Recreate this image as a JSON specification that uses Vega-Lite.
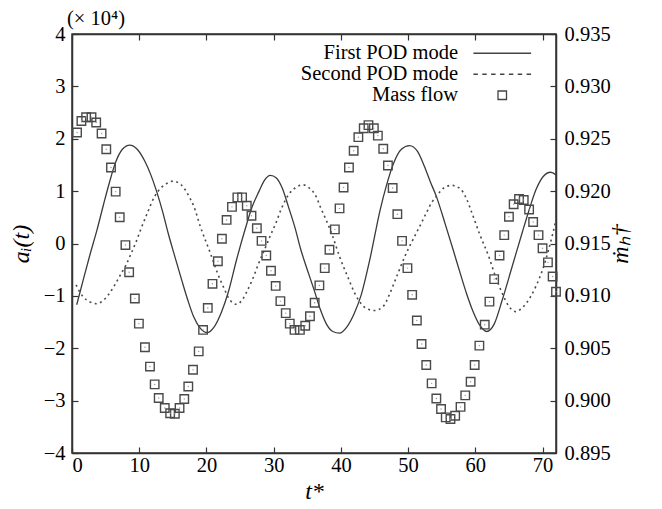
{
  "$schema": "https://vega.github.io/schema/vega-lite/v6.json",
  "width": 484,
  "height": 419,
  "autosize": {"type": "none"},
  "padding": {"left": 72, "top": 34, "right": 106, "bottom": 56},
  "background": "white",
  "title": {"text": "(× 10⁴)", "anchor": "start", "frame": "group", "font": "Liberation Serif", "fontSize": 20.5, "fontWeight": "normal", "color": "#000", "offset": -5, "dx": -5},
  "config": {
    "view": {"stroke": "#333", "strokeWidth": 1.5},
    "axis": {"labelFont": "Liberation Serif", "labelFontSize": 20.5, "labelColor": "#000", "tickColor": "#333", "domainColor": "#333", "domainWidth": 1.5, "tickWidth": 1.2, "tickSize": -6, "grid": false, "titleFont": "Liberation Serif", "titleFontStyle": "italic", "titleFontWeight": "normal", "titleFontSize": 24, "titleColor": "#000"},
    "legend": {"orient": "none", "legendX": 420, "legendY": 9, "labelFont": "Liberation Serif", "labelFontSize": 20.5, "labelColor": "#000", "labelAlign": "right", "labelOffset": -54.5, "labelLimit": 400, "symbolSize": 72, "symbolStrokeWidth": 1.3, "symbolStrokeColor": "#444", "rowPadding": 0, "padding": 0}
  },
  "datasets": {
    "pod1": [
      {"t": 0.7, "a": -1.17}, {"t": 1.7, "a": -0.68}, {"t": 2.7, "a": -0.2}, {"t": 3.7, "a": 0.25}, {"t": 4.7, "a": 0.75}, {"t": 5.6, "a": 1.18}, {"t": 6.4, "a": 1.52}, {"t": 7.5, "a": 1.8}, {"t": 8.6, "a": 1.88}, {"t": 9.7, "a": 1.8}, {"t": 10.8, "a": 1.58}, {"t": 11.7, "a": 1.32}, {"t": 12.6, "a": 0.99}, {"t": 13.5, "a": 0.6}, {"t": 14.3, "a": 0.2}, {"t": 15.3, "a": -0.25}, {"t": 16.3, "a": -0.69}, {"t": 17.2, "a": -1.07}, {"t": 18.1, "a": -1.4}, {"t": 19.1, "a": -1.62}, {"t": 20.1, "a": -1.7}, {"t": 21.1, "a": -1.6}, {"t": 22.2, "a": -1.32}, {"t": 23.2, "a": -0.95}, {"t": 24.5, "a": -0.3}, {"t": 25.8, "a": 0.29}, {"t": 26.8, "a": 0.7}, {"t": 27.8, "a": 0.99}, {"t": 28.6, "a": 1.2}, {"t": 29.5, "a": 1.3}, {"t": 30.4, "a": 1.25}, {"t": 31.3, "a": 1.05}, {"t": 32.2, "a": 0.7}, {"t": 33.2, "a": 0.29}, {"t": 34.0, "a": -0.1}, {"t": 35.0, "a": -0.5}, {"t": 36.0, "a": -0.88}, {"t": 37.0, "a": -1.28}, {"t": 37.9, "a": -1.55}, {"t": 38.8, "a": -1.68}, {"t": 39.8, "a": -1.71}, {"t": 40.9, "a": -1.59}, {"t": 42.0, "a": -1.33}, {"t": 43.0, "a": -0.99}, {"t": 44.4, "a": -0.25}, {"t": 45.8, "a": 0.62}, {"t": 46.8, "a": 1.12}, {"t": 47.8, "a": 1.52}, {"t": 49.0, "a": 1.8}, {"t": 50.2, "a": 1.87}, {"t": 51.4, "a": 1.76}, {"t": 52.4, "a": 1.48}, {"t": 53.3, "a": 1.18}, {"t": 54.2, "a": 0.9}, {"t": 55.5, "a": 0.38}, {"t": 56.7, "a": -0.12}, {"t": 57.8, "a": -0.59}, {"t": 58.7, "a": -0.96}, {"t": 59.6, "a": -1.28}, {"t": 60.6, "a": -1.55}, {"t": 61.7, "a": -1.68}, {"t": 62.8, "a": -1.54}, {"t": 64.0, "a": -1.08}, {"t": 65.5, "a": -0.43}, {"t": 67.0, "a": 0.22}, {"t": 68.0, "a": 0.64}, {"t": 69.0, "a": 1.02}, {"t": 70.1, "a": 1.28}, {"t": 71.2, "a": 1.36}, {"t": 72.0, "a": 1.31}
    ],
    "pod2": [
      {"t": 0.6, "a": -0.79}, {"t": 1.6, "a": -1.01}, {"t": 2.6, "a": -1.11}, {"t": 3.7, "a": -1.15}, {"t": 4.7, "a": -1.08}, {"t": 5.7, "a": -0.93}, {"t": 6.5, "a": -0.76}, {"t": 7.2, "a": -0.6}, {"t": 8.0, "a": -0.42}, {"t": 8.7, "a": -0.22}, {"t": 9.5, "a": 0.02}, {"t": 10.2, "a": 0.26}, {"t": 11.2, "a": 0.58}, {"t": 12.3, "a": 0.9}, {"t": 13.3, "a": 1.07}, {"t": 14.3, "a": 1.16}, {"t": 15.0, "a": 1.19}, {"t": 15.8, "a": 1.16}, {"t": 16.6, "a": 1.07}, {"t": 17.4, "a": 0.9}, {"t": 18.1, "a": 0.72}, {"t": 19.1, "a": 0.32}, {"t": 20.6, "a": -0.19}, {"t": 21.6, "a": -0.55}, {"t": 22.6, "a": -0.85}, {"t": 23.5, "a": -1.08}, {"t": 24.5, "a": -1.16}, {"t": 25.3, "a": -1.08}, {"t": 26.0, "a": -0.92}, {"t": 26.8, "a": -0.7}, {"t": 27.8, "a": -0.37}, {"t": 28.8, "a": -0.07}, {"t": 29.5, "a": 0.15}, {"t": 30.3, "a": 0.38}, {"t": 31.1, "a": 0.65}, {"t": 32.2, "a": 0.93}, {"t": 33.2, "a": 1.06}, {"t": 34.4, "a": 1.12}, {"t": 35.3, "a": 1.06}, {"t": 36.3, "a": 0.9}, {"t": 37.0, "a": 0.68}, {"t": 37.8, "a": 0.45}, {"t": 38.8, "a": 0.13}, {"t": 39.8, "a": -0.25}, {"t": 41.0, "a": -0.63}, {"t": 42.3, "a": -1.01}, {"t": 43.8, "a": -1.24}, {"t": 45.0, "a": -1.28}, {"t": 46.3, "a": -1.2}, {"t": 47.3, "a": -0.95}, {"t": 48.3, "a": -0.63}, {"t": 49.5, "a": -0.25}, {"t": 50.7, "a": 0.07}, {"t": 51.7, "a": 0.32}, {"t": 52.7, "a": 0.58}, {"t": 53.5, "a": 0.78}, {"t": 54.2, "a": 0.9}, {"t": 55.3, "a": 1.06}, {"t": 56.5, "a": 1.11}, {"t": 57.8, "a": 1.04}, {"t": 58.7, "a": 0.85}, {"t": 59.5, "a": 0.58}, {"t": 60.7, "a": 0.16}, {"t": 62.0, "a": -0.25}, {"t": 63.0, "a": -0.63}, {"t": 64.0, "a": -0.95}, {"t": 65.0, "a": -1.2}, {"t": 66.0, "a": -1.3}, {"t": 67.2, "a": -1.2}, {"t": 68.2, "a": -1.02}, {"t": 69.0, "a": -0.82}, {"t": 70.0, "a": -0.5}, {"t": 70.9, "a": -0.12}, {"t": 72.0, "a": 0.45}
    ],
    "mass": [
      {"t": 0.75, "m": 0.9256, "series": "Mass flow"}, {"t": 1.4, "m": 0.9267, "series": "Mass flow"}, {"t": 2.1, "m": 0.92705, "series": "Mass flow"}, {"t": 2.9, "m": 0.92705, "series": "Mass flow"}, {"t": 3.6, "m": 0.92655, "series": "Mass flow"}, {"t": 4.4, "m": 0.9255, "series": "Mass flow"}, {"t": 5.1, "m": 0.924, "series": "Mass flow"}, {"t": 5.8, "m": 0.92225, "series": "Mass flow"}, {"t": 6.5, "m": 0.91995, "series": "Mass flow"}, {"t": 7.1, "m": 0.9175, "series": "Mass flow"}, {"t": 7.95, "m": 0.91485, "series": "Mass flow"}, {"t": 8.5, "m": 0.91225, "series": "Mass flow"}, {"t": 9.35, "m": 0.90975, "series": "Mass flow"}, {"t": 9.95, "m": 0.90735, "series": "Mass flow"}, {"t": 10.85, "m": 0.9051, "series": "Mass flow"}, {"t": 11.6, "m": 0.90325, "series": "Mass flow"}, {"t": 12.3, "m": 0.90155, "series": "Mass flow"}, {"t": 12.9, "m": 0.90025, "series": "Mass flow"}, {"t": 13.8, "m": 0.8993, "series": "Mass flow"}, {"t": 14.6, "m": 0.8988, "series": "Mass flow"}, {"t": 15.3, "m": 0.89875, "series": "Mass flow"}, {"t": 16.0, "m": 0.8993, "series": "Mass flow"}, {"t": 16.7, "m": 0.90015, "series": "Mass flow"}, {"t": 17.3, "m": 0.90135, "series": "Mass flow"}, {"t": 18.0, "m": 0.90295, "series": "Mass flow"}, {"t": 18.85, "m": 0.9047, "series": "Mass flow"}, {"t": 19.5, "m": 0.90675, "series": "Mass flow"}, {"t": 20.2, "m": 0.90885, "series": "Mass flow"}, {"t": 20.9, "m": 0.91115, "series": "Mass flow"}, {"t": 21.7, "m": 0.9133, "series": "Mass flow"}, {"t": 22.3, "m": 0.91545, "series": "Mass flow"}, {"t": 23.0, "m": 0.91725, "series": "Mass flow"}, {"t": 23.8, "m": 0.9185, "series": "Mass flow"}, {"t": 24.6, "m": 0.9194, "series": "Mass flow"}, {"t": 25.3, "m": 0.9194, "series": "Mass flow"}, {"t": 26.0, "m": 0.9186, "series": "Mass flow"}, {"t": 26.7, "m": 0.91765, "series": "Mass flow"}, {"t": 27.5, "m": 0.91645, "series": "Mass flow"}, {"t": 28.2, "m": 0.91525, "series": "Mass flow"}, {"t": 28.9, "m": 0.91385, "series": "Mass flow"}, {"t": 29.6, "m": 0.9124, "series": "Mass flow"}, {"t": 30.3, "m": 0.91095, "series": "Mass flow"}, {"t": 31.0, "m": 0.9095, "series": "Mass flow"}, {"t": 31.8, "m": 0.90835, "series": "Mass flow"}, {"t": 32.4, "m": 0.90735, "series": "Mass flow"}, {"t": 33.1, "m": 0.90675, "series": "Mass flow"}, {"t": 33.9, "m": 0.90675, "series": "Mass flow"}, {"t": 34.7, "m": 0.90715, "series": "Mass flow"}, {"t": 35.4, "m": 0.90805, "series": "Mass flow"}, {"t": 36.1, "m": 0.90935, "series": "Mass flow"}, {"t": 36.8, "m": 0.911, "series": "Mass flow"}, {"t": 37.6, "m": 0.91265, "series": "Mass flow"}, {"t": 38.3, "m": 0.9144, "series": "Mass flow"}, {"t": 39.1, "m": 0.91635, "series": "Mass flow"}, {"t": 39.8, "m": 0.91835, "series": "Mass flow"}, {"t": 40.4, "m": 0.92035, "series": "Mass flow"}, {"t": 41.2, "m": 0.92225, "series": "Mass flow"}, {"t": 41.9, "m": 0.92385, "series": "Mass flow"}, {"t": 42.6, "m": 0.92515, "series": "Mass flow"}, {"t": 43.4, "m": 0.926, "series": "Mass flow"}, {"t": 44.1, "m": 0.9263, "series": "Mass flow"}, {"t": 44.9, "m": 0.926, "series": "Mass flow"}, {"t": 45.5, "m": 0.9253, "series": "Mass flow"}, {"t": 46.3, "m": 0.92405, "series": "Mass flow"}, {"t": 47.0, "m": 0.92245, "series": "Mass flow"}, {"t": 47.7, "m": 0.9203, "series": "Mass flow"}, {"t": 48.4, "m": 0.9178, "series": "Mass flow"}, {"t": 49.1, "m": 0.91525, "series": "Mass flow"}, {"t": 49.9, "m": 0.91265, "series": "Mass flow"}, {"t": 50.6, "m": 0.9101, "series": "Mass flow"}, {"t": 51.3, "m": 0.90765, "series": "Mass flow"}, {"t": 52.0, "m": 0.9054, "series": "Mass flow"}, {"t": 52.7, "m": 0.9034, "series": "Mass flow"}, {"t": 53.5, "m": 0.90165, "series": "Mass flow"}, {"t": 54.2, "m": 0.9002, "series": "Mass flow"}, {"t": 54.9, "m": 0.8992, "series": "Mass flow"}, {"t": 55.6, "m": 0.8984, "series": "Mass flow"}, {"t": 56.3, "m": 0.89825, "series": "Mass flow"}, {"t": 57.0, "m": 0.89855, "series": "Mass flow"}, {"t": 57.8, "m": 0.8994, "series": "Mass flow"}, {"t": 58.5, "m": 0.9005, "series": "Mass flow"}, {"t": 59.3, "m": 0.9018, "series": "Mass flow"}, {"t": 59.9, "m": 0.9034, "series": "Mass flow"}, {"t": 60.6, "m": 0.90525, "series": "Mass flow"}, {"t": 61.4, "m": 0.90725, "series": "Mass flow"}, {"t": 62.1, "m": 0.90945, "series": "Mass flow"}, {"t": 62.8, "m": 0.9116, "series": "Mass flow"}, {"t": 63.6, "m": 0.91385, "series": "Mass flow"}, {"t": 64.3, "m": 0.9158, "series": "Mass flow"}, {"t": 65.0, "m": 0.91755, "series": "Mass flow"}, {"t": 65.7, "m": 0.91875, "series": "Mass flow"}, {"t": 66.5, "m": 0.91925, "series": "Mass flow"}, {"t": 67.2, "m": 0.91915, "series": "Mass flow"}, {"t": 68.0, "m": 0.91825, "series": "Mass flow"}, {"t": 68.6, "m": 0.91705, "series": "Mass flow"}, {"t": 69.4, "m": 0.9158, "series": "Mass flow"}, {"t": 70.0, "m": 0.91455, "series": "Mass flow"}, {"t": 70.8, "m": 0.9132, "series": "Mass flow"}, {"t": 71.5, "m": 0.91185, "series": "Mass flow"}, {"t": 72.0, "m": 0.9104, "series": "Mass flow"}
    ]
  },
  "layer": [
    {
      "encoding": {
        "x": {"field": "t", "type": "quantitative", "scale": {"domain": [0, 72], "nice": false}, "axis": {"orient": "bottom", "values": [0, 10, 20, 30, 40, 50, 60, 70], "labelPadding": 8, "title": "t*", "titlePadding": 4}},
        "y": {"field": "a", "type": "quantitative", "scale": {"domain": [-4, 4], "nice": false, "zero": false}, "axis": {"orient": "left", "values": [-4, -3, -2, -1, 0, 1, 2, 3, 4], "labelPadding": 13, "title": "aᵢ(t)", "titlePadding": 10}}
      },
      "layer": [
        {"data": {"name": "pod1"}, "mark": {"type": "line", "interpolate": "monotone", "stroke": "#3a3a3a", "strokeWidth": 1.3}},
        {"data": {"name": "pod2"}, "mark": {"type": "line", "interpolate": "monotone", "stroke": "#4a4a4a", "strokeWidth": 1.6, "strokeDash": [2, 3.5]}}
      ]
    },
    {
      "data": {"name": "mass"},
      "encoding": {
        "x": {"field": "t", "type": "quantitative", "scale": {"domain": [0, 72], "nice": false}, "axis": {"orient": "top", "values": [0, 10, 20, 30, 40, 50, 60, 70], "labels": false, "title": null}},
        "y": {"field": "m", "type": "quantitative", "scale": {"domain": [0.895, 0.935], "nice": false, "zero": false}, "axis": {"orient": "right", "values": [0.895, 0.9, 0.905, 0.91, 0.915, 0.92, 0.925, 0.93, 0.935], "format": ".3f", "labelPadding": 14, "title": "ṁₕ†", "titleAngle": 270, "titlePadding": 22}}
      },
      "layer": [
        {
          "mark": {"type": "point", "filled": false, "size": 72, "stroke": "#4a4a4a", "strokeWidth": 1.4, "opacity": 1},
          "encoding": {
            "shape": {"field": "series", "type": "nominal", "scale": {"domain": ["First POD mode", "Second POD mode", "Mass flow"], "range": ["M-6.8,0L6.8,0", "M-6.8,0L-5.75,0M-4.71,0L-3.66,0M-2.62,0L-1.57,0M-0.53,0L0.52,0M1.56,0L2.61,0M3.65,0L4.7,0M5.74,0L6.79,0", "square"]}, "legend": {"title": null}}
          }
        },
        {"mark": {"type": "circle", "size": 2, "color": "#999", "opacity": 1}}
      ]
    }
  ],
  "resolve": {"scale": {"y": "independent"}, "axis": {"x": "independent"}}
}
